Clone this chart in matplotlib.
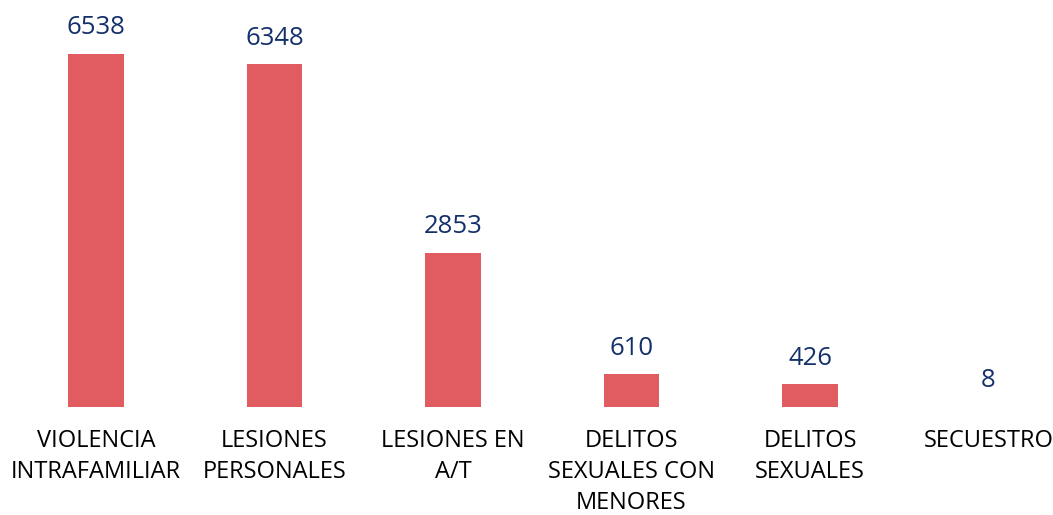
import matplotlib.pyplot as plt

categories = ["VIOLENCIA\nINTRAFAMILIAR", "LESIONES\nPERSONALES", "LESIONES EN\nA/T",
              "DELITOS\nSEXUALES CON\nMENORES", "DELITOS\nSEXUALES", "SECUESTRO"]
values = [6538, 6348, 2853, 610, 426, 8]

bar_color = "#E05C61"
label_color = "#13306B"

plt.rcParams['font.family'] = ['Open Sans', 'DejaVu Sans']

fig = plt.figure(figsize=(10.53, 5.15), dpi=100)
ax = fig.add_axes([0, 0.2097, 1, 0.7903])

x = list(range(len(values)))
ax.bar(x, values, width=0.31, color=bar_color)
for xi, v in zip(x, values):
    ax.text(xi, v + 250, str(v), ha="center", va="bottom", fontsize=18.5, color=label_color)

ax.set_xlim(-0.538, 5.361)
ax.set_ylim(0, 7538)
ax.set_xticks(x)
ax.set_xticklabels(categories, fontsize=17, color="black", linespacing=1.38)
ax.tick_params(axis="x", length=0, pad=16)
ax.set_yticks([])
for s in ax.spines.values():
    s.set_visible(False)

fig.savefig("out.png", dpi=100)
